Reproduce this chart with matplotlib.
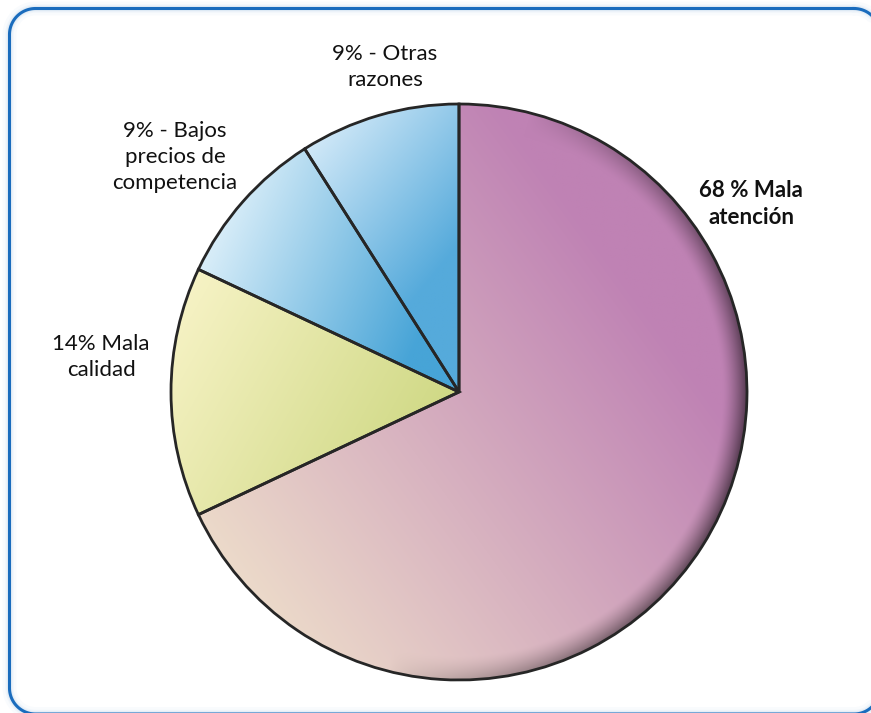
import numpy as np
import matplotlib
matplotlib.use("Agg")
import matplotlib.pyplot as plt
from matplotlib.colors import to_rgb

plt.rcParams['font.family'] = ['Lato', 'DejaVu Sans']

labels = ['68 % Mala\natención', '14% Mala\ncalidad',
          '9% - Bajos\nprecios de\ncompetencia', '9% - Otras\nrazones']
values = [68, 14, 9, 9]

# gradient for each slice: (start xy, end xy, start colour, end colour), pixel coords from top-left
grads = [
    ((200, 620), (640, 300), '#f1e4cc', '#bf82b4'),
    ((180, 290), (430, 430), '#f7f3c6', '#d0d986'),
    ((215, 245), (420, 335), '#d6ecf8', '#47a4d7'),
    ((315, 135), (455, 250), '#d2e9f8', '#55aadb'),
]
label_pos = [(751, 204), (101, 357), (175, 157), (385, 67)]
label_weight = ['bold', 'normal', 'normal', 'normal']

W, H = 871, 713


def rounded_rect(x0, y0, x1, y1, rad, n=30):
    """outline of a rounded rectangle, y measured from the top"""
    pts = []
    corners = [(x1 - rad, y0 + rad, -90, 0), (x1 - rad, y1 - rad, 0, 90),
               (x0 + rad, y1 - rad, 90, 180), (x0 + rad, y0 + rad, 180, 270)]
    for ccx, ccy, a0, a1 in corners:
        a = np.radians(np.linspace(a0, a1, n))
        pts.append(np.c_[ccx + rad * np.cos(a), ccy + rad * np.sin(a)])
    pts = np.vstack(pts + [pts[0][:1]])
    return pts[:, 0], H - pts[:, 1]


fig = plt.figure(figsize=(W / 100, H / 100), dpi=100)
ax = fig.add_axes([0, 0, 1, 1])

# frame with a soft glow
fx, fy = rounded_rect(9.5, 8.5, 880, 714, 26)
for lw, a in [(10, 0.05), (6, 0.08), (4, 0.12)]:
    ax.plot(fx, fy, color='#8ab8e0', lw=lw, alpha=a, solid_capstyle='round')
ax.plot(fx, fy, color='#1a6cbd', lw=2.2)

cx, cy, r = 459, H - 392, 288
wedges, _ = ax.pie(values, startangle=90, counterclock=False, center=(cx, cy), radius=r,
                   wedgeprops=dict(edgecolor='#262626', linewidth=2.0, facecolor='none'),
                   frame=True)

n = 600
xs = np.linspace(cx - r, cx + r, n)
ys = np.linspace(cy + r, cy - r, n)
X, Y = np.meshgrid(xs, ys)
for i, (w, (p0, p1, c0, c1)) in enumerate(zip(wedges, grads)):
    x0, y0 = p0[0], H - p0[1]
    x1, y1 = p1[0], H - p1[1]
    d = np.array([x1 - x0, y1 - y0])
    t = ((X - x0) * d[0] + (Y - y0) * d[1]) / (d @ d)
    t = np.clip(t, 0, 1)[..., None]
    img = (1 - t) * np.array(to_rgb(c0)) + t * np.array(to_rgb(c1))
    if i == 0:
        # darker rim on the right side of the big slice
        dist = np.hypot(X - cx, Y - cy)
        ang = np.arctan2(Y - cy, X - cx)
        rim = np.clip((dist - (r - 24)) / 24, 0, 1) ** 1.4
        side = np.clip(np.cos(ang + 0.25), 0, 1) ** 0.8
        shade = 1 - 0.55 * rim * side
        img = img * shade[..., None]
    im = ax.imshow(img, extent=(cx - r, cx + r, cy - r, cy + r), origin='upper',
                   interpolation='bilinear', zorder=1)
    im.set_clip_path(w)
    w.set_zorder(2)

ax.set_xlim(0, W)
ax.set_ylim(0, H)
ax.set_aspect('equal')
ax.axis('off')

for lab, (x, y), fw in zip(labels, label_pos, label_weight):
    ax.text(x, H - y, lab, ha='center', va='center', fontsize=16, fontweight=fw,
            color='#111111', linespacing=1.4)

fig.savefig('out.png', dpi=100)
